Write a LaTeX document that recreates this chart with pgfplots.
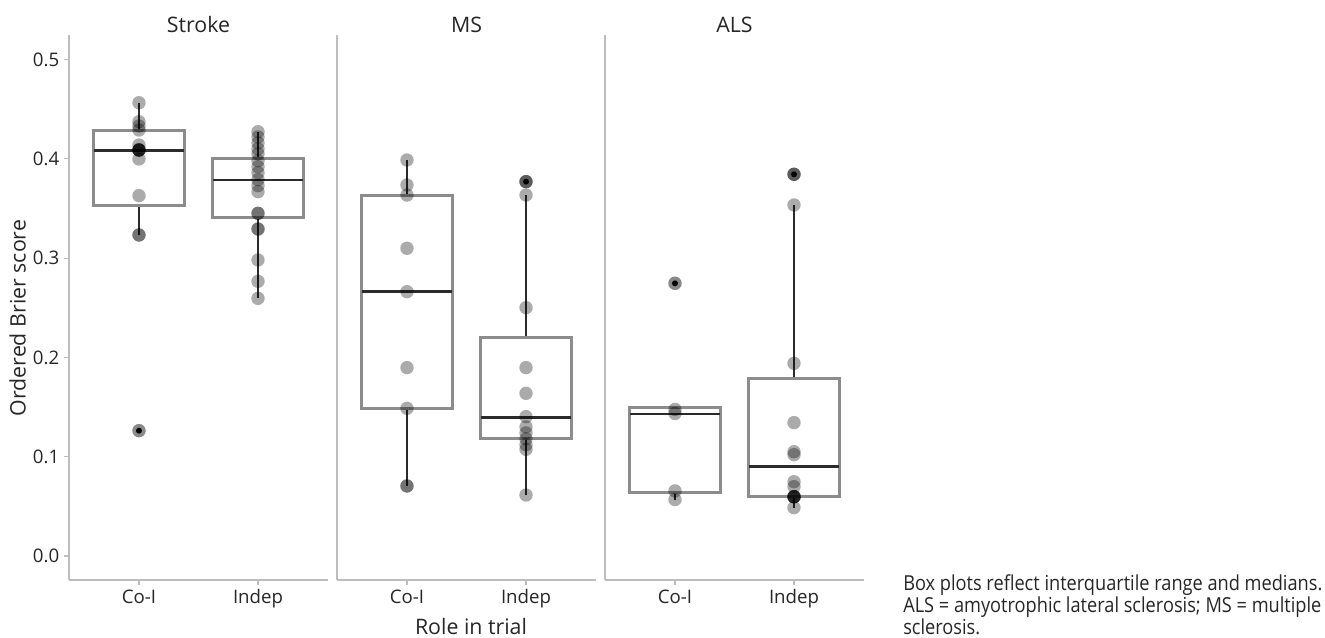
\documentclass[border=0pt]{standalone}
\usepackage{pgfplots}
\pgfplotsset{compat=1.18}
\usepgfplotslibrary{statistics}
\usepackage{fontspec}
\setmainfont{Open Sans}
\newfontfamily\notefont[FakeStretch=0.88]{Open Sans}
\newlength\px
\setlength\px{0.75pt}
\definecolor{axgray}{HTML}{BDBDBD}
\definecolor{boxgray}{HTML}{8C8C8C}
\definecolor{darkline}{HTML}{2B2B2B}
\pgfplotsset{
  panel/.style={
    scale only axis, width=259\px, height=545\px,
    xmin=-0.588, xmax=1.588, ymin=-0.0242, ymax=0.5247,
    axis x line=bottom, axis y line=left,
    axis line style={axgray, line width=1.5\px, -},
    xtick={0,1}, xticklabels={Co-I,Indep},
    tick style={axgray, line width=1.2\px},
    major tick length=5\px, tick align=outside,
    tick label style={font=\fontsize{14}{16}\selectfont, text=black!85},
    every axis title shift=0pt,
    title style={at={(0.5,1)}, anchor=base, yshift=2\px, font=\fontsize{16}{18}\selectfont, text=black!85},
    clip=false,
    boxplot/draw direction=y,
    boxplot/every box/.style={draw=boxgray, line width=3\px},
    boxplot/every median/.style={draw=darkline, line width=2.8\px},
    boxplot/every whisker/.style={draw=darkline, line width=2.4\px},
  },
  pts/.style={only marks, mark=*, mark size=6.7\px, draw opacity=0,
    mark options={draw opacity=0, fill=black, fill opacity=0.33}},
  outring/.style={only marks, mark=*, mark size=6.7\px, draw opacity=0,
    mark options={draw opacity=0, fill=black, fill opacity=0.2}},
  outdot/.style={only marks, mark=*, mark size=3\px,
    mark options={draw opacity=0, fill=black}},
}
\begin{document}
\begin{tikzpicture}
\path[use as bounding box] (0,0) rectangle (1325\px,637\px);
% ---------------- Stroke ----------------
\begin{axis}[panel, at={(69\px,57\px)}, anchor=south west, title={Stroke},
  ytick={0,0.1,0.2,0.3,0.4,0.5},
  yticklabel style={/pgf/number format/.cd, fixed, fixed zerofill, precision=1, assume math mode=true},
]
\addplot[boxplot prepared={draw position=0, box extend=0.76, whisker extend=0,
  lower whisker=0.3233, lower quartile=0.3525, median=0.4082, upper quartile=0.4290, upper whisker=0.4565}] coordinates {};
\addplot[boxplot prepared={draw position=1, box extend=0.76, whisker extend=0,
  lower whisker=0.2595, lower quartile=0.3411, median=0.3787, upper quartile=0.4001, upper whisker=0.4273}] coordinates {};
\addplot[pts] coordinates {
 (0,0.4565) (0,0.4374) (0,0.4330) (0,0.4290) (0,0.4139)
 (0,0.4089) (0,0.4089) (0,0.4089) (0,0.4089) (0,0.4089)
 (0,0.3998) (0,0.3629) (0,0.3233) (0,0.3233) (0,0.1262)
 (1,0.4273) (1,0.4220) (1,0.4160) (1,0.4100) (1,0.4050) (1,0.3980)
 (1,0.3920) (1,0.3860) (1,0.3790) (1,0.3730) (1,0.3669)
 (1,0.3451) (1,0.3451) (1,0.3293) (1,0.3293) (1,0.2981) (1,0.2766) (1,0.2595)
};
\addplot[outring] coordinates {(0,0.1262)};
\addplot[outdot] coordinates {(0,0.1262)};
\end{axis}
% ---------------- MS ----------------
\begin{axis}[panel, at={(337\px,57\px)}, anchor=south west, title={MS}, ytick=\empty]
\addplot[boxplot prepared={draw position=0, box extend=0.76, whisker extend=0,
  lower whisker=0.0705, lower quartile=0.1487, median=0.2662, upper quartile=0.3635, upper whisker=0.3988}] coordinates {};
\addplot[boxplot prepared={draw position=1, box extend=0.76, whisker extend=0,
  lower whisker=0.0614, lower quartile=0.1185, median=0.1396, upper quartile=0.2202, upper whisker=0.3635}] coordinates {};
\addplot[pts] coordinates {
 (0,0.3988) (0,0.3736) (0,0.3635) (0,0.3099) (0,0.2662) (0,0.1897) (0,0.1487) (0,0.0705) (0,0.0705)
 (1,0.3770) (1,0.3770) (1,0.3635) (1,0.2501) (1,0.1897) (1,0.1638) (1,0.1403)
 (1,0.1300) (1,0.1240) (1,0.1180) (1,0.1120) (1,0.1074) (1,0.0614)
};
\addplot[outring] coordinates {(1,0.3770)};
\addplot[outdot] coordinates {(1,0.3770)};
\end{axis}
% ---------------- ALS ----------------
\begin{axis}[panel, at={(605\px,57\px)}, anchor=south west, title={ALS}, ytick=\empty]
\addplot[boxplot prepared={draw position=0, box extend=0.76, whisker extend=0,
  lower whisker=0.0568, lower quartile=0.0641, median=0.1430, upper quartile=0.1494, upper whisker=0.1494}] coordinates {};
\addplot[boxplot prepared={draw position=1, box extend=0.76, whisker extend=0,
  lower whisker=0.0487, lower quartile=0.0604, median=0.0899, upper quartile=0.1790, upper whisker=0.3535}] coordinates {};
\addplot[pts] coordinates {
 (0,0.2746) (0,0.1476) (0,0.1435) (0,0.0655) (0,0.0568)
 (1,0.3844) (1,0.3844) (1,0.3535) (1,0.1940) (1,0.1343) (1,0.1050) (1,0.1020)
 (1,0.0748) (1,0.0698) (1,0.0597) (1,0.0597) (1,0.0597) (1,0.0597) (1,0.0597) (1,0.0487)
};
\addplot[outring] coordinates {(0,0.2746) (1,0.3844)};
\addplot[outdot] coordinates {(0,0.2746) (1,0.3844)};
\end{axis}
% ---------------- labels ----------------
\node[rotate=90, anchor=center, font=\fontsize{16}{18}\selectfont, text=black!85] at (17.5\px,319\px) {Ordered Brier score};
\node[anchor=base, font=\fontsize{16}{18}\selectfont, text=black!85] at (471\px,3\px) {Role in trial};
\node[anchor=base west, align=left, inner sep=0pt, font=\notefont\fontsize{15.5}{15}\selectfont, text=black!85] at (903\px,2.5\px)
 {Box plots reflect interquartile range and medians.\\ALS = amyotrophic lateral sclerosis; MS = multiple\\sclerosis.};
\end{tikzpicture}
\end{document}
